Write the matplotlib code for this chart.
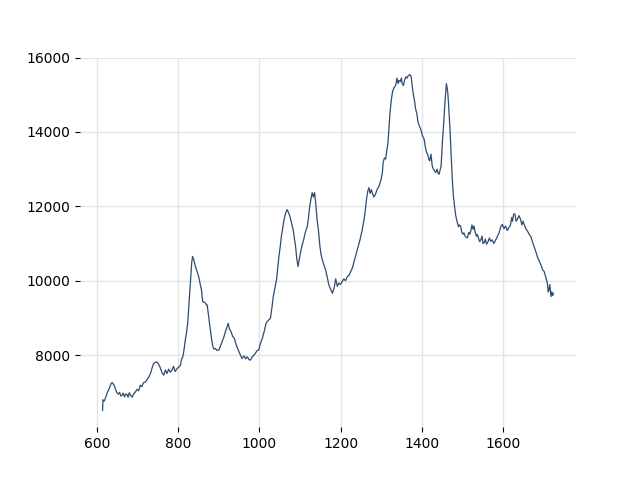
import matplotlib
matplotlib.use("Agg")
import matplotlib.pyplot as plt

# (x, value)
xs = [613, 614, 617, 620, 622, 625, 628, 631, 634, 637, 640, 643, 646, 649, 652, 655,
      658, 661, 664, 667, 670, 673, 676, 679, 682, 686, 690, 694, 698, 702, 706, 710,
      714, 719, 723, 727, 731, 735, 739, 743, 746, 750, 753, 756, 760, 764, 768, 772,
      776, 780, 784, 788, 792, 797, 801, 805, 808, 811, 814, 817, 820, 823, 827, 830,
      833, 835, 838, 842, 846, 850, 854, 857, 860, 863, 867, 869, 871, 874, 877, 881,
      885, 888, 891, 895, 900, 904, 908, 912, 916, 920, 923, 926, 930, 934, 938, 942,
      946, 951, 957, 962, 966, 970, 974, 978, 982, 986, 990, 994, 998, 1002, 1007, 1012,
      1016, 1019, 1023, 1027, 1031, 1034, 1038, 1042, 1045, 1048, 1051, 1054, 1057, 1060,
      1064, 1068, 1071, 1075, 1079, 1083, 1086, 1089, 1092, 1095, 1098, 1101, 1105, 1109,
      1113, 1118, 1121, 1124, 1127, 1130, 1133, 1136, 1139, 1142, 1146, 1149, 1152, 1155,
      1159, 1163, 1167, 1171, 1175, 1180, 1184, 1188, 1192, 1196, 1200, 1204, 1208, 1212,
      1217, 1221, 1225, 1229, 1233, 1237, 1242, 1248, 1253, 1258, 1261, 1264, 1267, 1270,
      1273, 1276, 1278, 1282, 1286, 1290, 1295, 1300, 1303, 1305, 1308, 1311, 1314, 1317,
      1320, 1322, 1325, 1328, 1332, 1336, 1339, 1342, 1344, 1347, 1350, 1352, 1355, 1358,
      1361, 1364, 1367, 1371, 1374, 1377, 1380, 1383, 1385, 1388, 1391, 1395, 1399, 1402,
      1406, 1409, 1412, 1415, 1418, 1420, 1423, 1426, 1429, 1432, 1435, 1438, 1441, 1443,
      1446, 1448, 1451, 1455, 1458, 1461, 1464, 1466, 1468, 1470, 1473, 1476, 1478, 1481,
      1484, 1488, 1491, 1493, 1496, 1499, 1502, 1504, 1508, 1513, 1516, 1519, 1521, 1524,
      1527, 1529, 1532, 1535, 1537, 1540, 1543, 1546, 1549, 1551, 1554, 1557, 1560, 1564,
      1567, 1570, 1574, 1578, 1583, 1587, 1591, 1595, 1599, 1603, 1607, 1611, 1615, 1619,
      1622, 1624, 1627, 1630, 1633, 1636, 1640, 1644, 1647, 1650, 1653, 1657, 1661, 1665,
      1669, 1673, 1677, 1681, 1685, 1689, 1694, 1698, 1702, 1706, 1710, 1712, 1714, 1716,
      1719, 1721, 1723, 1725]
values = [6513, 6800, 6760, 6840, 6900, 7010, 7060, 7150, 7235, 7260, 7215, 7150, 7050, 6980, 6950, 7000,
          6900, 6920, 6980, 6880, 6950, 6945, 6870, 6990, 6920, 6870, 6960, 7010, 7080, 7040, 7190, 7150,
          7260, 7280, 7340, 7410, 7500, 7650, 7775, 7800, 7820, 7780, 7720, 7640, 7520, 7460, 7600, 7505,
          7620, 7540, 7595, 7700, 7560, 7640, 7680, 7730, 7900, 7955, 8150, 8405, 8600, 8855, 9500, 10025,
          10500, 10655, 10560, 10385, 10250, 10115, 9900, 9755, 9440, 9420, 9405, 9350, 9350, 9100, 8855, 8500,
          8225, 8160, 8180, 8130, 8135, 8250, 8360, 8480, 8630, 8760, 8855, 8700, 8630, 8500, 8450, 8300,
          8180, 8050, 7910, 7980, 7900, 7955, 7880, 7865, 7950, 8000, 8050, 8120, 8135, 8300, 8450, 8650,
          8850, 8900, 8950, 8990, 9300, 9575, 9800, 10025, 10350, 10655, 10900, 11195, 11400, 11600,
          11800, 11915, 11850, 11735, 11550, 11375, 11150, 10925, 10600, 10385, 10560, 10745, 10950, 11105,
          11300, 11465, 11700, 12010, 12200, 12370, 12250, 12370, 12050, 11650, 11300, 10925, 10700, 10565,
          10420, 10295, 10100, 9890, 9780, 9665, 9800, 10050, 9850, 9935, 9900, 9980, 10050, 10000,
          10115, 10150, 10250, 10340, 10500, 10655, 10850, 11105, 11350, 11650, 11900, 12190, 12400, 12505,
          12350, 12450, 12370, 12250, 12325, 12450, 12550, 12730, 12900, 13180, 13300, 13270, 13500, 13720,
          14200, 14530, 14850, 15075, 15200, 15250, 15450, 15300, 15385, 15350, 15450, 15300, 15250, 15400,
          15480, 15450, 15520, 15540, 15500, 15200, 14980, 14800, 14620, 14500, 14260, 14150, 14035, 13900,
          13810, 13600, 13450, 13400, 13250, 13225, 13400, 13090, 13000, 12950, 12910, 13000, 12880, 12865,
          13000, 13090, 13700, 14350, 14900, 15300, 15100, 14805, 14400, 14035, 13300, 12640, 12300, 12010,
          11750, 11560, 11450, 11500, 11470, 11300, 11250, 11290, 11180, 11155, 11300, 11250, 11335, 11500,
          11380, 11470, 11300, 11200, 11245, 11150, 11050, 11105, 11200, 11000, 11020, 11120, 10980, 11060,
          11150, 11060, 11100, 11000, 11105, 11200, 11290, 11450, 11515, 11400, 11470, 11350, 11425, 11500,
          11700, 11600, 11800, 11785, 11600, 11650, 11750, 11650, 11500, 11600, 11515, 11400, 11335, 11250,
          11195, 11050, 10925, 10800, 10655, 10550, 10430, 10300, 10250, 10100, 9935, 9700, 9755, 9900,
          9575, 9700, 9600, 9665]

fig, ax = plt.subplots(figsize=(6.4, 4.8), dpi=100)
ax.plot(xs, values, color="#2f4b6e", lw=0.9)

ax.grid(True, color="#e5e5e5", lw=1)
ax.set_axisbelow(True)
for s in ax.spines.values():
    s.set_visible(False)
ax.set_yticks([8000, 10000, 12000, 14000, 16000])
ax.set_xticks([600, 800, 1000, 1200, 1400, 1600])

plt.savefig("out.png")
